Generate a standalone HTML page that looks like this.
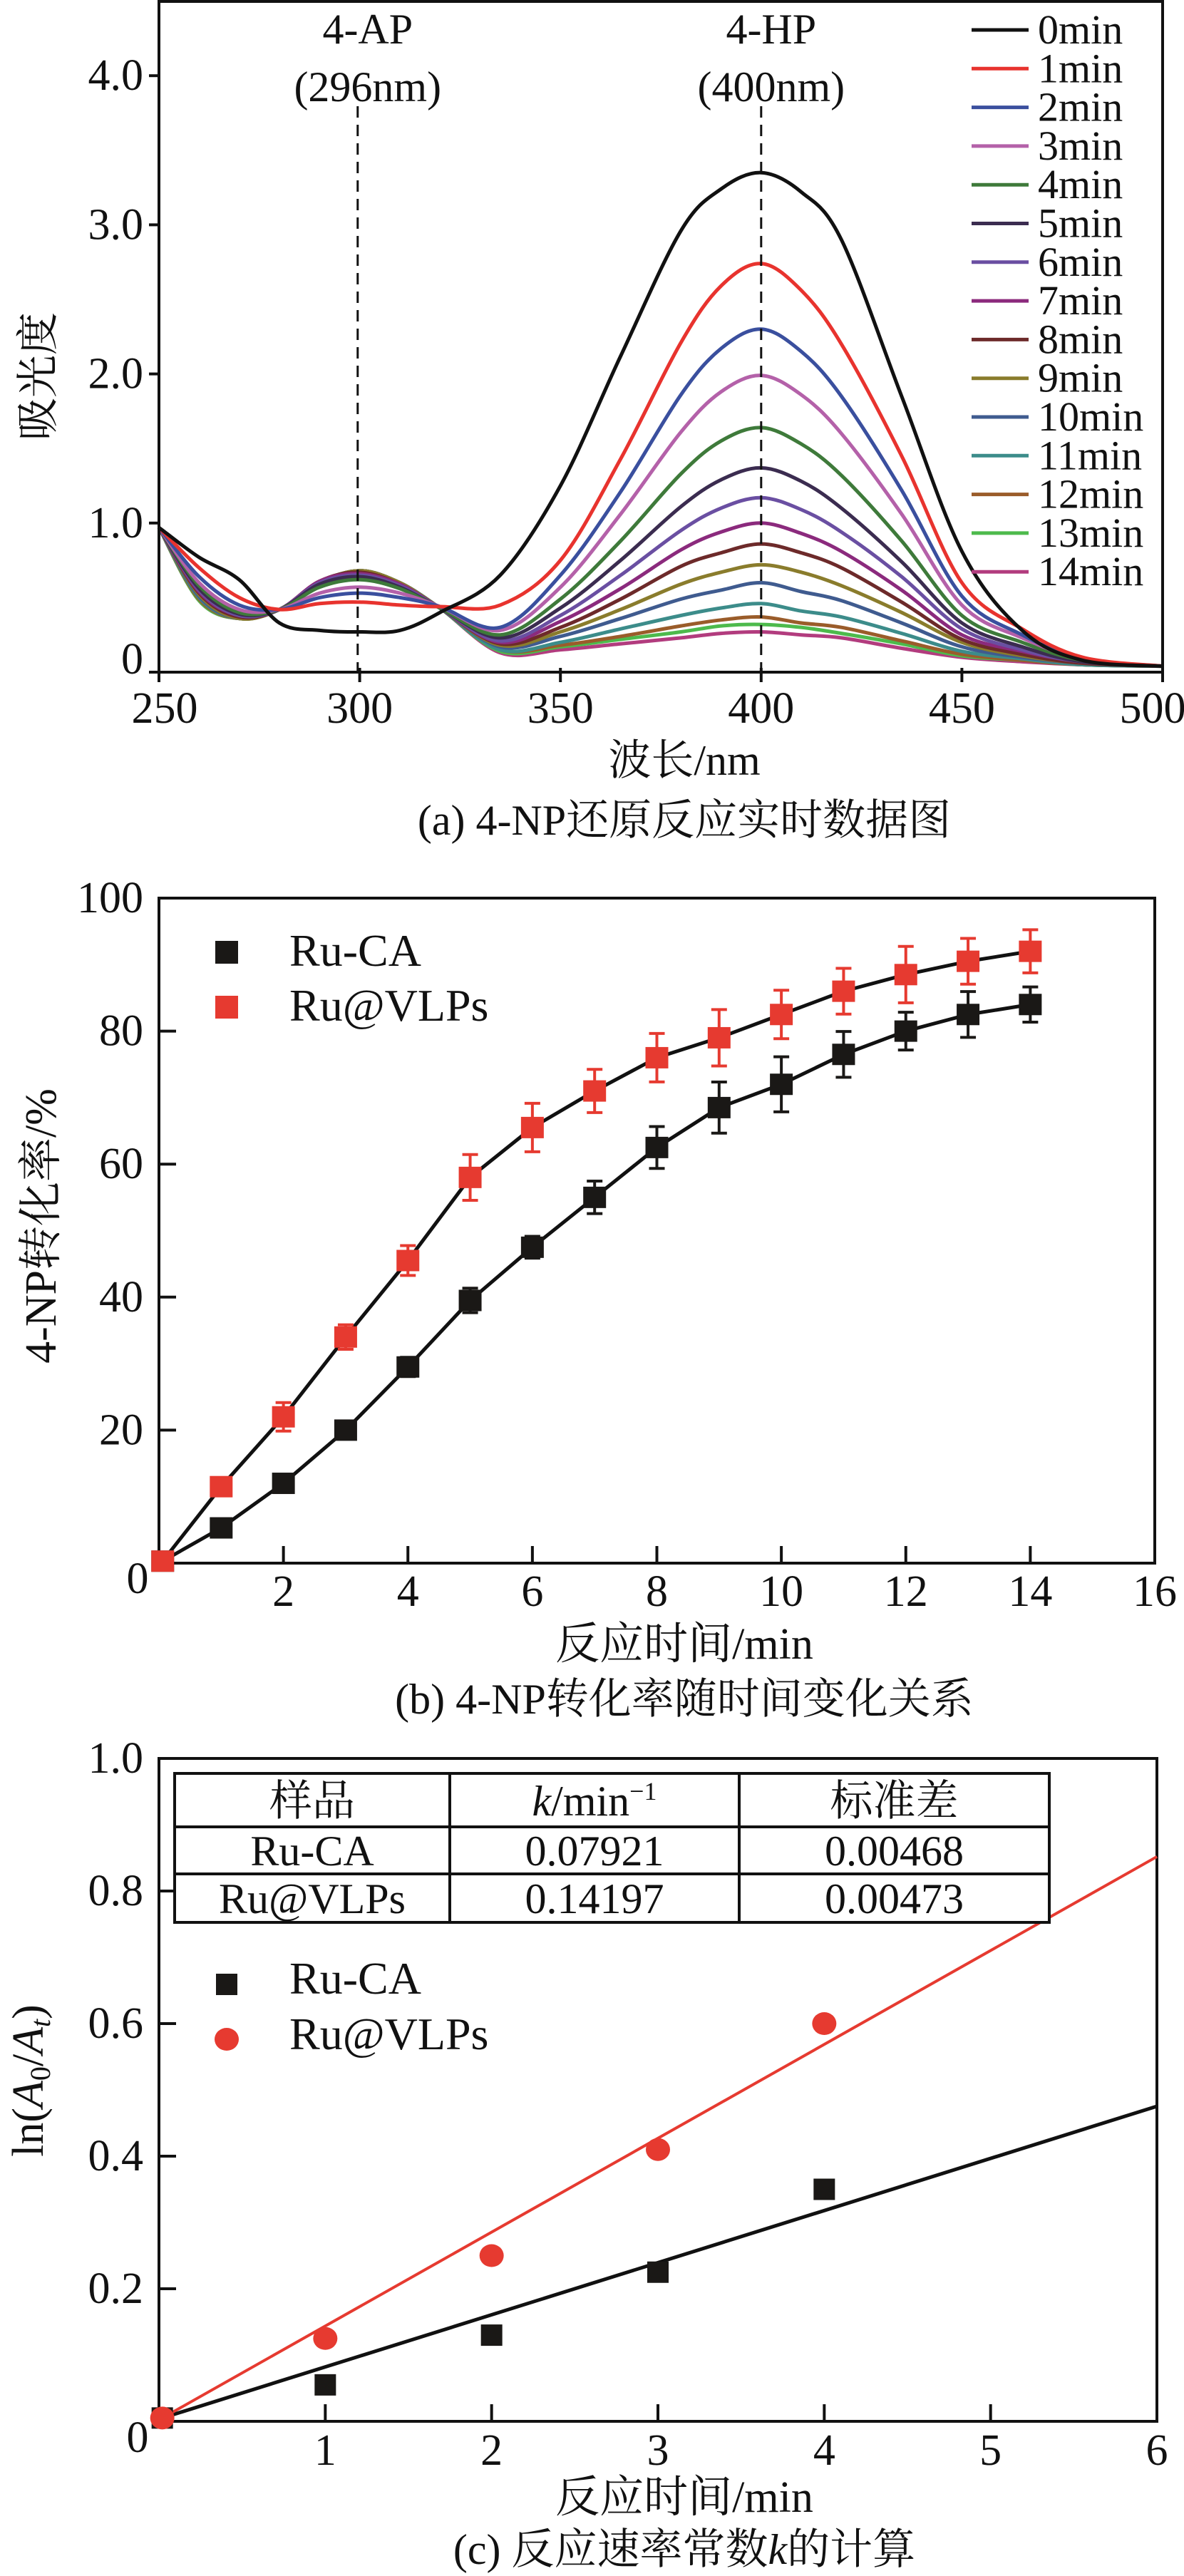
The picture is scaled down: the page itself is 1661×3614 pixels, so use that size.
<!DOCTYPE html>
<html><head><meta charset="utf-8">
<style>
html,body{margin:0;padding:0;background:#fff;}
svg{display:block;}
text{font-family:"Liberation Serif","Noto Serif CJK SC",serif;fill:#111;}
</style></head>
<body>
<svg id="fig" width="1661" height="3614" viewBox="0 0 1661 3614" xmlns="http://www.w3.org/2000/svg">
<g id="chartA"></g>
<g id="chartB"></g>
<g id="chartC"></g>
</svg>
<script>
// ---------- Chart A data ----------
const wavelengths = [250,260,270,280,290,300,310,320,335,350,365,380,390,400,410,420,435,450,465,480,500];
const spec0  = [0.97,0.77,0.62,0.33,0.28,0.27,0.28,0.40,0.65,1.25,2.12,2.96,3.24,3.35,3.22,2.90,1.85,0.81,0.28,0.08,0.04];
const spec1  = [0.97,0.70,0.50,0.42,0.46,0.47,0.45,0.44,0.45,0.75,1.43,2.21,2.59,2.74,2.56,2.20,1.45,0.60,0.29,0.10,0.04];
const spec2  = [0.97,0.64,0.45,0.42,0.50,0.53,0.50,0.44,0.30,0.65,1.21,1.86,2.17,2.30,2.15,1.85,1.22,0.51,0.25,0.09,0.04];
const spec3  = [0.97,0.60,0.42,0.42,0.53,0.57,0.53,0.44,0.28,0.57,1.06,1.61,1.88,1.99,1.86,1.60,1.06,0.45,0.23,0.09,0.04];
const spec4  = [0.97,0.58,0.40,0.42,0.57,0.62,0.56,0.43,0.25,0.49,0.88,1.33,1.55,1.64,1.53,1.32,0.88,0.38,0.20,0.08,0.04];
const spec5  = [0.97,0.56,0.39,0.42,0.59,0.64,0.57,0.43,0.23,0.43,0.75,1.11,1.29,1.37,1.28,1.10,0.74,0.33,0.17,0.07,0.04];
const spec6  = [0.97,0.55,0.38,0.42,0.60,0.65,0.58,0.43,0.21,0.38,0.65,0.95,1.10,1.17,1.09,0.94,0.64,0.29,0.15,0.07,0.04];
const spec7  = [0.97,0.54,0.38,0.42,0.61,0.66,0.59,0.43,0.20,0.34,0.56,0.82,0.94,1.00,0.93,0.81,0.55,0.25,0.14,0.07,0.04];
const spec8  = [0.97,0.53,0.37,0.42,0.61,0.67,0.59,0.43,0.19,0.30,0.49,0.71,0.80,0.86,0.80,0.70,0.47,0.22,0.12,0.06,0.04];
const spec9  = [0.97,0.52,0.36,0.42,0.60,0.68,0.60,0.43,0.18,0.27,0.42,0.59,0.67,0.72,0.67,0.58,0.40,0.20,0.11,0.06,0.04];
const spec10 = [0.97,0.51,0.36,0.42,0.60,0.68,0.60,0.43,0.17,0.24,0.36,0.49,0.55,0.60,0.54,0.48,0.33,0.17,0.10,0.06,0.04];
const spec11 = [0.97,0.50,0.36,0.42,0.60,0.68,0.60,0.43,0.15,0.20,0.29,0.38,0.43,0.46,0.41,0.37,0.26,0.14,0.09,0.05,0.04];
const spec12 = [0.97,0.49,0.36,0.42,0.60,0.68,0.60,0.43,0.15,0.18,0.24,0.31,0.35,0.37,0.33,0.30,0.21,0.12,0.08,0.05,0.04];
const spec13 = [0.97,0.48,0.36,0.42,0.60,0.68,0.60,0.43,0.14,0.17,0.22,0.27,0.31,0.32,0.30,0.26,0.19,0.11,0.08,0.05,0.04];
const spec14 = [0.97,0.48,0.36,0.42,0.60,0.68,0.60,0.43,0.13,0.15,0.19,0.23,0.26,0.27,0.25,0.23,0.16,0.10,0.07,0.05,0.04];
const specLabels = ["0min","1min","2min","3min","4min","5min","6min","7min","8min","9min","10min","11min","12min","13min","14min"];
const specColors = ["#111111","#e8332e","#3a4f9e","#b461a9","#3e7a3a","#3b2c50","#6a4fa2","#8b2a7d","#6d2a2a","#8a7c2c","#3f5b8f","#3c8c8a","#9a5c2a","#4dba4c","#b23c7e"];
const xTicksA = [250,300,350,400,450,500];
const yTicksA = [0,1,2,3,4];
const yTickLabelsA = ["0","1.0","2.0","3.0","4.0"];

// ---------- Chart B data ----------
const timesB = [0.06,1,2,3,4,5,6,7,8,9,10,11,12,13,14];
const convCA   = [0.3,5.3,12,20,29.5,39.5,47.5,55,62.5,68.5,72,76.5,80,82.5,84];
const errCA    = [0,0,0,0,0.8,1.2,1,1.8,2.5,3.2,3.5,2.8,2.2,2.8,2];
const convVLPs = [0.3,11.5,22,34,45.5,58,65.5,71,76,79,82.5,86,88.5,90.5,92];
const errVLPs  = [0,0,1.5,1.2,1.6,2.8,3,2.6,3,3.6,3,2.8,3.6,2.8,2.6];
const xTicksB = [2,4,6,8,10,12,14,16];
const yTicksB = [20,40,60,80,100];

// ---------- Chart C data ----------
const timesC = [0.02,1,2,3,4];
const lnCA   = [0.005,0.055,0.13,0.225,0.35];
const lnVLPs = [0.005,0.125,0.25,0.41,0.60];
const slopeCA = 0.07921;
const slopeVLPs = 0.14197;
const xTicksC = [1,2,3,4,5,6];
const yTicksC = [0.2,0.4,0.6,0.8,1.0];
const tableRows = [["Ru-CA","0.07921","0.00468"],["Ru@VLPs","0.14197","0.00473"]];

const NS = "http://www.w3.org/2000/svg";
function mk(parent, tag, attrs, txt){
  const e = document.createElementNS(NS, tag);
  for (const k in attrs) e.setAttribute(k, attrs[k]);
  if (txt !== undefined) e.textContent = txt;
  parent.appendChild(e);
  return e;
}
function crPath(pts){
  let d = "M"+pts[0][0].toFixed(1)+","+pts[0][1].toFixed(1);
  for (let i=0;i<pts.length-1;i++){
    const p0=pts[Math.max(0,i-1)], p1=pts[i], p2=pts[i+1], p3=pts[Math.min(pts.length-1,i+2)];
    const c1x=p1[0]+(p2[0]-p0[0])/6, c1y=p1[1]+(p2[1]-p0[1])/6;
    const c2x=p2[0]-(p3[0]-p1[0])/6, c2y=p2[1]-(p3[1]-p1[1])/6;
    d += " C"+c1x.toFixed(1)+","+c1y.toFixed(1)+" "+c2x.toFixed(1)+","+c2y.toFixed(1)+" "+p2[0].toFixed(1)+","+p2[1].toFixed(1);
  }
  return d;
}

// ================= Chart A =================
(function(){
  const g = document.getElementById("chartA");
  const L=223,R=1631,T=2,B=943;
  const xA = w => L + (w-250)*(R-L)/250;
  const yA = v => B - v*209.2;
  const series = [spec0,spec1,spec2,spec3,spec4,spec5,spec6,spec7,spec8,spec9,spec10,spec11,spec12,spec13,spec14];
  const curves = mk(g,"g",{});
  
  
  for (let s=series.length-1;s>=0;s--){
    const pts = wavelengths.map((w,i)=>[xA(w), yA(series[s][i])]);
    const p = mk(curves,"path",{d:crPath(pts),fill:"none",stroke:specColors[s],"stroke-width":5,"stroke-linejoin":"round"});
    
    
  }
  [[296,"4-AP","(296nm)"],[400,"4-HP","(400nm)"]].forEach(a=>{
    const x = xA(a[0]===296?299.5:400);
    const ln = mk(g,"line",{x1:x,y1:149,x2:x,y2:B,stroke:"#111","stroke-width":3,"stroke-dasharray":"16,10"});
    
    
    const t1 = mk(g,"text",{x:x+14,y:61,"font-size":60,"text-anchor":"middle"},a[1]);
    
    
    const t2 = mk(g,"text",{x:x+14,y:142,"font-size":60,"text-anchor":"middle"},a[2]);
    
    
  });
  const fr = mk(g,"rect",{x:L,y:T,width:R-L,height:B-T,fill:"none",stroke:"#111","stroke-width":4});
  
  
  xTicksA.forEach(v=>{
    const tk = mk(g,"line",{x1:xA(v),y1:B-6,x2:xA(v),y2:B+14,stroke:"#111","stroke-width":4});
    
    
    const lb = mk(g,"text",{x:xA(v)+(v===500?-14:(v===250?8:0)),y:1014,"font-size":62,"text-anchor":"middle"},String(v));
    
    
  });
  yTicksA.forEach((v,i)=>{
    const tk = mk(g,"line",{x1:L-14,y1:yA(v),x2:L,y2:yA(v),stroke:"#111","stroke-width":4});
    
    
    const lb = mk(g,"text",{x:201,y:yA(v)+(v===0?2:20),"font-size":62,"text-anchor":"end"},yTickLabelsA[i]);
    
    
  });
  const lg = mk(g,"g",{});
  
  
  specLabels.forEach((lab,i)=>{
    const y = 42 + i*54.3;
    const ln = mk(lg,"line",{x1:1363,y1:y,x2:1443,y2:y,stroke:specColors[i],"stroke-width":5});
    
    
    const t = mk(lg,"text",{x:1456,y:y+19,"font-size":58},lab);
    
    
  });
  const yt = mk(g,"text",{x:0,y:0,"font-size":60,"text-anchor":"middle",transform:"translate(74,528) rotate(-90)"},"吸光度");
  
  
  const xt = mk(g,"text",{x:960,y:1087,"font-size":60,"text-anchor":"middle"},"波长/nm");
  
  
  const cp = mk(g,"text",{x:960,y:1171,"font-size":60,"text-anchor":"middle"},"(a) 4-NP还原反应实时数据图");
  
  
})();

// ================= Chart B =================
(function(){
  const g = document.getElementById("chartB");
  const L=223,R=1620,T=1260,B=2193;
  const xB = t => L + t*(R-L)/16;
  const yB = v => B - v*(B-T)/100;
  const fr = mk(g,"rect",{x:L,y:T,width:R-L,height:B-T,fill:"none",stroke:"#111","stroke-width":4});
  
  
  xTicksB.forEach(v=>{
    if (v<16){
      const tk = mk(g,"line",{x1:xB(v),y1:B-24,x2:xB(v),y2:B,stroke:"#111","stroke-width":4});
      
      
    }
    const lb = mk(g,"text",{x:xB(v),y:2253,"font-size":62,"text-anchor":"middle"},String(v));
    
    
  });
  const z = mk(g,"text",{x:193,y:2235,"font-size":62,"text-anchor":"middle"},"0");
  
  
  yTicksB.forEach(v=>{
    if (v<100){
      const tk = mk(g,"line",{x1:L,y1:yB(v),x2:L+24,y2:yB(v),stroke:"#111","stroke-width":4});
      
      
    }
    const lb = mk(g,"text",{x:201,y:yB(v)+20,"font-size":62,"text-anchor":"end"},String(v));
    
    
  });
  function series(vals, errs, color, name){
    const sg = mk(g,"g",{});
    
    
    const pts = timesB.map((t,i)=>xB(t)+","+yB(vals[i])).join(" ");
    const pl = mk(sg,"polyline",{points:pts,fill:"none",stroke:"#111","stroke-width":5,"stroke-linejoin":"round"});
    
    
    timesB.forEach((t,i)=>{
      const x=xB(t), y=yB(vals[i]), e=errs[i]*(B-T)/100;
      if (errs[i]>0){
        const eb = mk(sg,"path",{d:`M${x},${y-e-6}V${y+e+6}M${x-11},${y-e-6}H${x+11}M${x-11},${y+e+6}H${x+11}`,stroke:color,"stroke-width":4,fill:"none"});
        
        
      }
      const m = mk(sg,"rect",{x:x-16,y:y-15,width:32,height:30,fill:color});
      
      
    });
  }
  series(convCA, errCA, "#1a1816", "ru-ca");
  series(convVLPs, errVLPs, "#e63a30", "ru-vlps");
  const l1 = mk(g,"rect",{x:302,y:1320,width:32,height:32,fill:"#1a1816"});
  
  
  const t1 = mk(g,"text",{x:406,y:1355,"font-size":64},"Ru-CA");
  
  
  const l2 = mk(g,"rect",{x:302,y:1397,width:32,height:32,fill:"#e63a30"});
  
  
  const t2 = mk(g,"text",{x:406,y:1432,"font-size":64},"Ru@VLPs");
  
  
  const yt = mk(g,"text",{x:0,y:0,"font-size":62,"text-anchor":"middle",transform:"translate(78,1720) rotate(-90)"},"4-NP转化率/%");
  
  
  const xt = mk(g,"text",{x:960,y:2327,"font-size":62,"text-anchor":"middle"},"反应时间/min");
  
  
  const cp = mk(g,"text",{x:960,y:2404,"font-size":60,"text-anchor":"middle"},"(b) 4-NP转化率随时间变化关系");
  
  
})();

// ================= Chart C =================
(function(){
  const g = document.getElementById("chartC");
  const L=223,R=1623,T=2467,B=3397;
  const xC = t => L + t*(R-L)/6;
  const yC = v => B - v*(B-T)/1.0;
  const fr = mk(g,"rect",{x:L,y:T,width:R-L,height:B-T,fill:"none",stroke:"#111","stroke-width":4});
  
  
  xTicksC.forEach(v=>{
    if (v<6){
      const tk = mk(g,"line",{x1:xC(v),y1:B-24,x2:xC(v),y2:B,stroke:"#111","stroke-width":4});
      
      
    }
    const lb = mk(g,"text",{x:xC(v),y:3458,"font-size":62,"text-anchor":"middle"},String(v));
    
    
  });
  const z = mk(g,"text",{x:193,y:3440,"font-size":62,"text-anchor":"middle"},"0");
  
  
  yTicksC.forEach(v=>{
    if (v<1){
      const tk = mk(g,"line",{x1:L,y1:yC(v),x2:L+24,y2:yC(v),stroke:"#111","stroke-width":4});
      
      
    }
    const lb = mk(g,"text",{x:201,y:yC(v)+20,"font-size":62,"text-anchor":"end"},v.toFixed(1));
    
    
  });
  const f1 = mk(g,"line",{x1:xC(0.02),y1:yC(0.005),x2:xC(6),y2:yC(slopeCA*6),stroke:"#111","stroke-width":5});
  
  
  const f2 = mk(g,"line",{x1:xC(0.02),y1:yC(0.005),x2:xC(6),y2:yC(slopeVLPs*6),stroke:"#e63a30","stroke-width":4});
  
  
  timesC.forEach((t,i)=>{
    const m = mk(g,"rect",{x:xC(t)-15,y:yC(lnCA[i])-15,width:30,height:30,fill:"#1a1816"});
    
    
  });
  timesC.forEach((t,i)=>{
    const m = mk(g,"ellipse",{cx:xC(t),cy:yC(lnVLPs[i]),rx:17,ry:16,fill:"#e63a30"});
    
    
  });
  const tb = mk(g,"g",{});
  
  
  const tx=[245,631,1037,1472], ty=[2488,2563,2629,2697];
  const bg = mk(tb,"rect",{x:tx[0],y:ty[0],width:tx[3]-tx[0],height:ty[3]-ty[0],fill:"#fff",stroke:"#111","stroke-width":4});
  
  
  [ty[1],ty[2]].forEach(y=>{ const l=mk(tb,"line",{x1:tx[0],y1:y,x2:tx[3],y2:y,stroke:"#111","stroke-width":4});
    
     });
  [tx[1],tx[2]].forEach(x=>{ const l=mk(tb,"line",{x1:x,y1:ty[0],x2:x,y2:ty[3],stroke:"#111","stroke-width":4});
    
     });
  const cx=[(tx[0]+tx[1])/2,(tx[1]+tx[2])/2,(tx[2]+tx[3])/2];
  const h1 = mk(tb,"text",{x:cx[0],y:2547,"font-size":60,"text-anchor":"middle"},"样品");
  
  
  const h2 = mk(tb,"text",{x:cx[1],y:2547,"font-size":60,"text-anchor":"middle"});
  
  
  mk(h2,"tspan",{"font-style":"italic"},"k");
  mk(h2,"tspan",{},"/min");
  mk(h2,"tspan",{"font-size":36,dy:-22},"−1");
  const h3 = mk(tb,"text",{x:cx[2],y:2547,"font-size":60,"text-anchor":"middle"},"标准差");
  
  
  tableRows.forEach((row,r)=>{
    row.forEach((c,j)=>{
      const t = mk(tb,"text",{x:cx[j],y:[2617,2684][r],"font-size":60,"text-anchor":"middle"},c);
      
      
    });
  });
  const l1 = mk(g,"rect",{x:303,y:2769,width:30,height:30,fill:"#1a1816"});
  
  
  const t1 = mk(g,"text",{x:406,y:2797,"font-size":64},"Ru-CA");
  
  
  const l2 = mk(g,"ellipse",{cx:318,cy:2861,rx:17,ry:16,fill:"#e63a30"});
  
  
  const t2 = mk(g,"text",{x:406,y:2875,"font-size":64},"Ru@VLPs");
  
  
  const yt = mk(g,"text",{x:0,y:0,"font-size":62,"text-anchor":"middle",transform:"translate(60,2919) rotate(-90)"});
  
  
  mk(yt,"tspan",{},"ln(");
  mk(yt,"tspan",{"font-style":"italic"},"A");
  mk(yt,"tspan",{"font-size":40,dy:10},"0");
  mk(yt,"tspan",{dy:-10},"/");
  mk(yt,"tspan",{"font-style":"italic"},"A");
  mk(yt,"tspan",{"font-size":40,dy:10,"font-style":"italic"},"t");
  mk(yt,"tspan",{dy:-10},")");
  const xt = mk(g,"text",{x:960,y:3524,"font-size":62,"text-anchor":"middle"},"反应时间/min");
  
  
  const cp = mk(g,"text",{x:960,y:3597,"font-size":60,"text-anchor":"middle"});
  
  
  mk(cp,"tspan",{},"(c) 反应速率常数");
  mk(cp,"tspan",{"font-style":"italic"},"k");
  mk(cp,"tspan",{},"的计算");
})();
</script>
</body></html>
